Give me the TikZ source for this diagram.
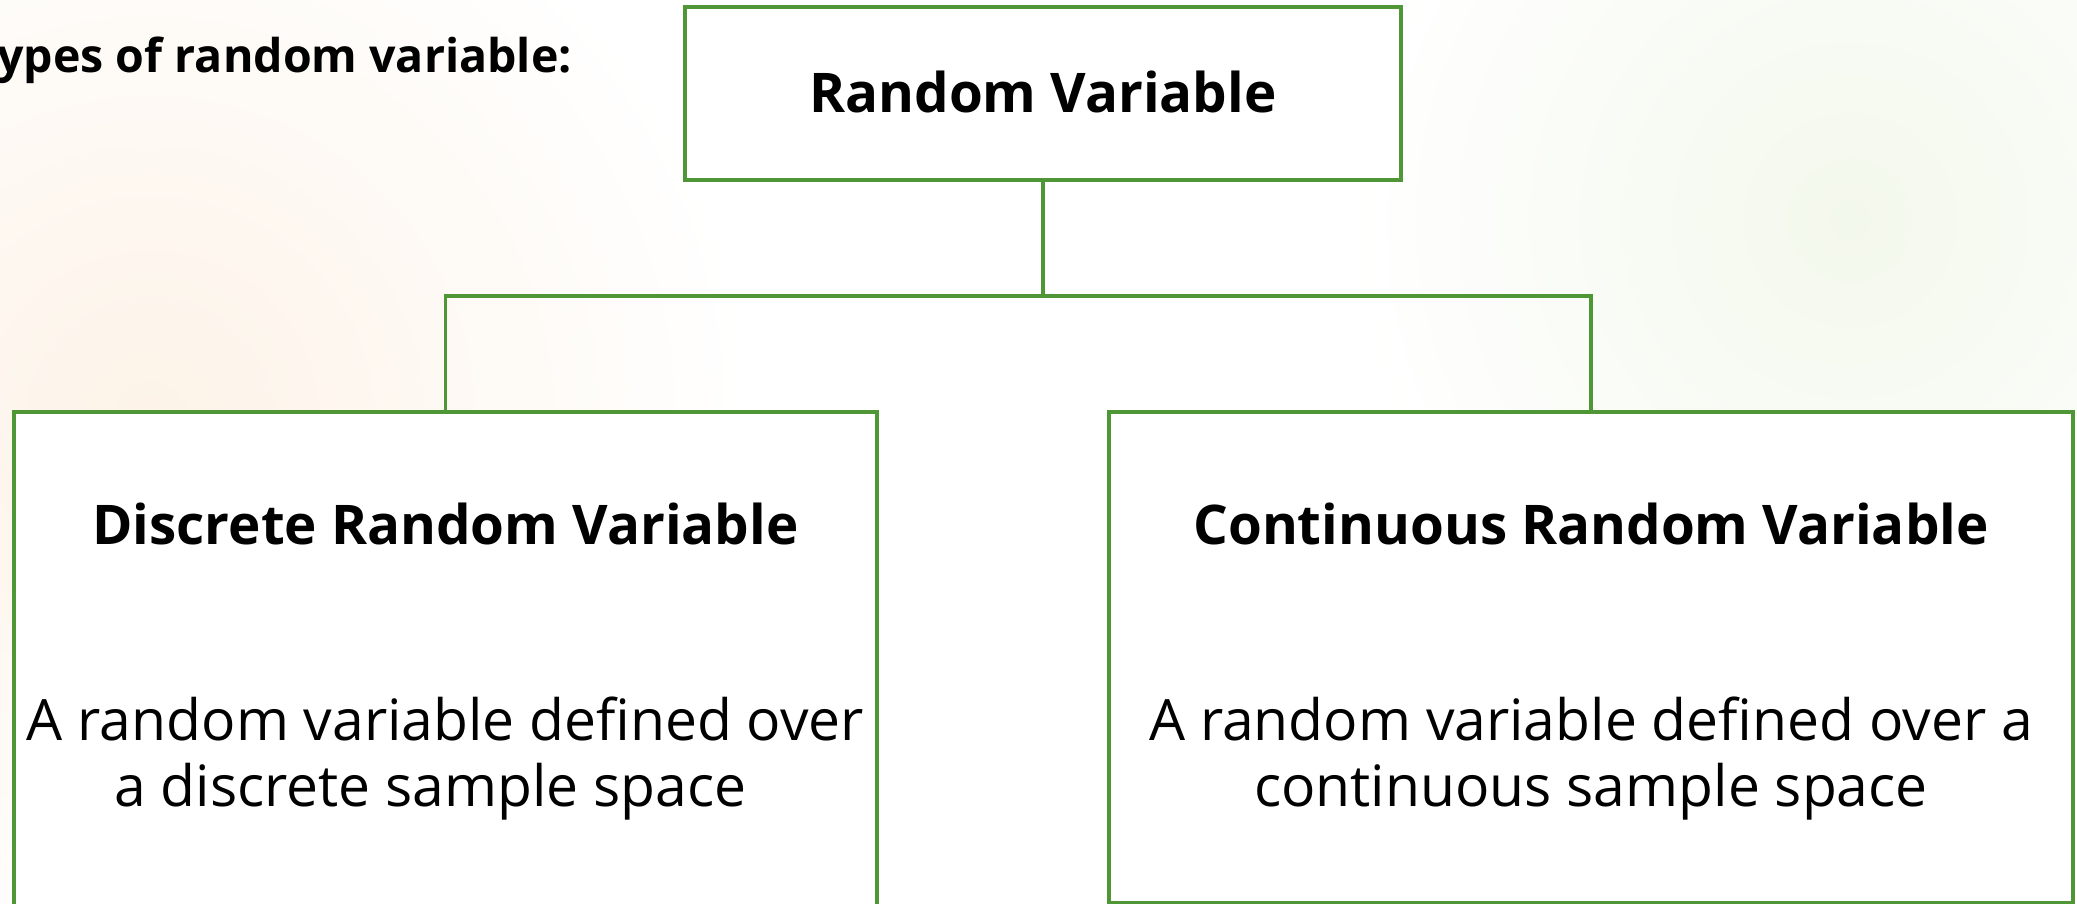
\documentclass[tikz,border=0pt]{standalone}
\usepackage{fontspec}
\setmainfont{Open Sans}
\usetikzlibrary{positioning,calc}
\definecolor{leaf}{HTML}{4E9636}
\definecolor{glowA}{HTML}{FDF3E8}
\definecolor{glowB}{HTML}{F3F8EC}

\begin{document}
\begin{tikzpicture}[x=1pt,y=-1pt,
  box/.style={draw=leaf,line width=3.5pt,fill=white,inner sep=0pt},
  head/.style={font=\bfseries\fontsize{54.7}{62}\selectfont,anchor=base,inner sep=0pt},
  desc/.style={font=\fontsize{57}{66}\selectfont,align=center,anchor=base,inner sep=0pt},
  link/.style={draw=leaf,line width=3.5pt}
]
\clip (0,0) rectangle (2077,904);
\useasboundingbox (0,0) rectangle (2077,904);
% soft background glows
\shade[inner color=glowA,outer color=white] (150,420) circle (600);
\shade[inner color=glowB,outer color=white] (1850,220) circle (500);

\node[anchor=base east,inner sep=0pt,font=\bfseries\fontsize{46.5}{54}\selectfont]
  (types) at (572,73) {Types of random variable:};

% boxes
\node[box,minimum width=716,minimum height=173] (top) at (1043,93.5) {};
\node[box,minimum width=863,minimum height=498] (disc) at (445.5,661) {};
\node[box,minimum width=964,minimum height=491] (cont) at (1591,657.5) {};

\node[head] (toph) at (top.center) [yshift=-19pt] {Random Variable};
\node[head] (disch) at ($(disc.north)+(0,134)$) {Discrete Random Variable};
\node[head] (conth) at ($(cont.north)+(0,134)$) {Continuous Random Variable};
% base sits on the last line of the text
\node[desc] (discd) at ($(disc.north)+(0,396)$)
  {A random variable defined over\\a discrete sample space\hspace*{30pt}};
\node[desc] (contd) at ($(cont.north)+(0,396)$)
  {A random variable defined over a\\continuous sample space};

% tree connectors
\coordinate (fork) at ($(top.south)+(0,114)$);
\draw[link] (top.south) -- (fork) -| (disc.north);
\draw[link] (fork) -| (cont.north);
\end{tikzpicture}
\end{document}
